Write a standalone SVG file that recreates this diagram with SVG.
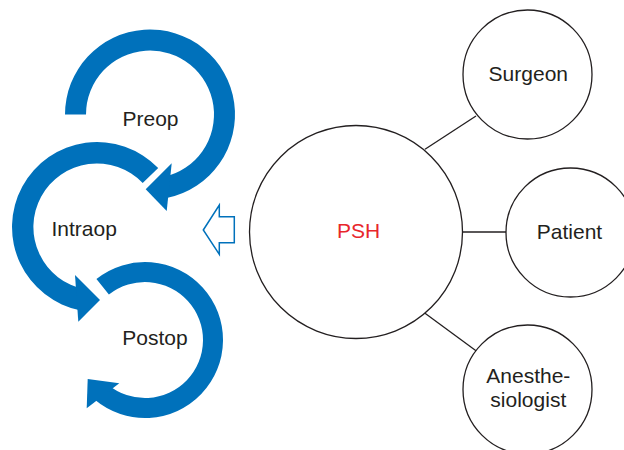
<svg xmlns="http://www.w3.org/2000/svg" width="624" height="450" viewBox="0 0 624 450">
  <style>
    .lbl { font-family: "Liberation Sans", Arial, sans-serif; font-size: 21px; fill: #231F20; text-anchor: middle; }
    .psh { font-family: "Liberation Sans", Arial, sans-serif; font-size: 21px; fill: #E8262B; text-anchor: middle; }
    .cyc { fill: #0071BB; stroke: none; }
    .node { fill: #FFFFFF; stroke: #231F20; stroke-width: 1.3; }
    .conn { stroke: #231F20; stroke-width: 1.3; fill: none; }
  </style>
  <rect width="624" height="450" fill="#FFFFFF"/>

  <g id="postop">
    <path class="cyc" d="M 96.44 278.96 A 78 78 0 1 1 94.86 399.75 L 107.72 384.43 A 58 58 0 1 0 108.89 294.61 Z"/>
    <path class="cyc" d="M 119.3 383.3 L 87.7 379 L 86.7 408.3 Z"/>
    <text class="lbl" x="155" y="345">Postop</text>
  </g>
  <g id="intraop">
    <path class="cyc" d="M 158.2 168.0 A 85 85 0 1 0 80.78 310.44 L 84.88 289.33 A 63.5 63.5 0 1 1 142.7 183.0 Z"/>
    <path class="cyc" d="M 75 275 L 100 300 L 78.3 321.7 Z"/>
    <text class="lbl" x="84.2" y="236">Intraop</text>
  </g>
  <g id="preop">
    <path class="cyc" d="M 65 114.5 A 85 85 0 1 1 167.67 197.64 L 163.31 177.1 A 64 64 0 1 0 86 114.5 Z"/>
    <path class="cyc" d="M 171.7 163.3 L 145.7 189.3 L 166.7 211 Z"/>
    <text class="lbl" x="150.5" y="126">Preop</text>
  </g>

  <g id="hollow-arrow">
    <polygon points="203.3,230 219.3,205 219.3,216.7 234.3,216.7 234.3,242.7 219.3,242.7 219.3,254.3" fill="#FFFFFF" stroke="#0071BB" stroke-width="1.5" stroke-linejoin="miter"/>
  </g>

  <g id="connectors">
    <line class="conn" x1="425" y1="149.3" x2="476" y2="116"/>
    <line class="conn" x1="462.5" y1="232" x2="506" y2="232"/>
    <line class="conn" x1="425" y1="313.3" x2="476" y2="350.7"/>
  </g>

  <g id="psh">
    <circle class="node" cx="356" cy="232" r="106.5"/>
    <text class="psh" x="358.7" y="238.3">PSH</text>
  </g>
  <g id="surgeon">
    <circle class="node" cx="527.5" cy="74.5" r="64.5"/>
    <text class="lbl" x="528.3" y="80.7">Surgeon</text>
  </g>
  <g id="patient">
    <circle class="node" cx="570.5" cy="232.5" r="64.5"/>
    <text class="lbl" x="569.5" y="239.3">Patient</text>
  </g>
  <g id="anesthesiologist">
    <circle class="node" cx="527.5" cy="389.5" r="64.5"/>
    <text class="lbl" x="528.3" y="382.7">Anesthe-</text>
    <text class="lbl" x="528.3" y="406.5">siologist</text>
  </g>
</svg>
